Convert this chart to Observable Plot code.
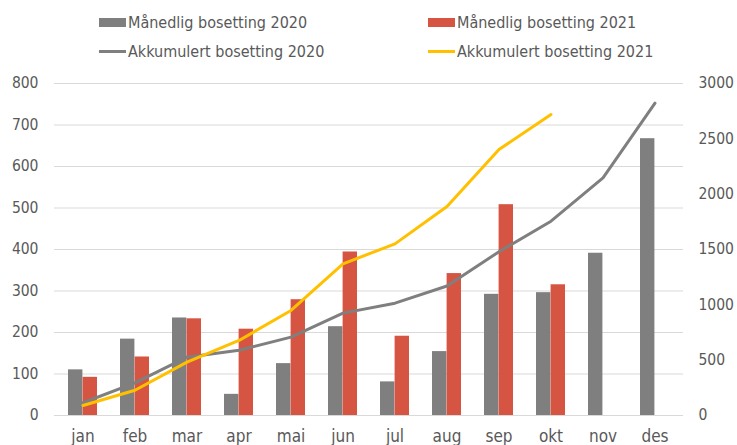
<!DOCTYPE html>
<html><head><meta charset="utf-8">
<script src="https://cdn.jsdelivr.net/npm/d3@7"></script>
<script src="https://cdn.jsdelivr.net/npm/@observablehq/plot@0.6"></script>
<style>
body{margin:0;background:#fff;font-family:"DejaVu Sans Condensed","DejaVu Sans",sans-serif;font-stretch:condensed;}
#wrap{position:relative;width:737px;height:445px;overflow:hidden;}
#legend{position:relative;height:66px;width:737px;}
.item{position:absolute;display:flex;align-items:center;height:20px;font-size:16px;color:#595959;white-space:nowrap;}
.sw{width:27px;margin-right:2px;}
.bar{height:9px;}
.ln{height:3px;}
</style>
</head><body>
<div id="wrap">
<div id="legend"></div>
<div id="chart"></div>
</div>
<script>
const months = ["jan","feb","mar","apr","mai","jun","jul","aug","sep","okt","nov","des"];
const monthly2020 = [110, 184, 235, 51, 125, 214, 81, 154, 292, 296, 391, 667];
const monthly2021 = [92, 141, 233, 208, 279, 394, 191, 342, 508, 315];
const cumulative2020 = [115, 295, 527, 590, 708, 925, 1015, 1170, 1480, 1756, 2148, 2822];
const cumulative2021 = [90, 228, 482, 678, 949, 1371, 1551, 1888, 2403, 2720];
const leftTicks = [0, 100, 200, 300, 400, 500, 600, 700, 800];
const rightTicks = [0, 500, 1000, 1500, 2000, 2500, 3000];
const seriesNames = ["Månedlig bosetting 2020", "Månedlig bosetting 2021", "Akkumulert bosetting 2020", "Akkumulert bosetting 2021"];
const colors = ["#7f7f7f", "#d65542", "#7f7f7f", "#ffc000"];

const LEFT_MAX = 800, RIGHT_MAX = 3000;
const toLeft = v => v * LEFT_MAX / RIGHT_MAX;

const bars20 = months.map((m, i) => ({month: m, value: monthly2020[i]}));
const bars21 = monthly2021.map((v, i) => ({month: months[i], value: v}));
const cum20 = months.map((m, i) => ({month: m, value: toLeft(cumulative2020[i])}));
const cum21 = cumulative2021.map((v, i) => ({month: months[i], value: toLeft(v)}));

// legend
const legend = document.getElementById("legend");
const legendPos = [[99, 12], [428, 12], [99, 41], [428, 41]];
seriesNames.forEach((name, i) => {
  const it = document.createElement("div");
  it.className = "item";
  it.style.left = legendPos[i][0] + "px";
  it.style.top = legendPos[i][1] + "px";
  const sw = document.createElement("span");
  sw.className = "sw " + (i < 2 ? "bar" : "ln");
  sw.style.background = colors[i];
  const tx = document.createElement("span");
  tx.textContent = name;
  it.appendChild(sw); it.appendChild(tx);
  legend.appendChild(it);
});

const half = 14.6;
const chart = Plot.plot({
  width: 737,
  height: 379,
  marginLeft: 54,
  marginRight: 54,
  marginTop: 17,
  marginBottom: 30,
  style: {fontFamily: '"DejaVu Sans Condensed","DejaVu Sans",sans-serif', fontSize: "15px", color: "#595959", background: "#fff"},
  x: {domain: months, type: "band", paddingInner: 0.44, paddingOuter: 0.2, axis: null},
  y: {domain: [0, LEFT_MAX], axis: null},
  marks: [
    Plot.ruleY(leftTicks, {stroke: "#d9d9d9", strokeWidth: 1}),
    Plot.barY(bars20, {x: "month", y: "value", fill: colors[0], insetRight: half}),
    Plot.barY(bars21, {x: "month", y: "value", fill: colors[1], insetLeft: half}),
    Plot.lineY(cum20, {x: "month", y: "value", stroke: colors[2], strokeWidth: 3}),
    Plot.lineY(cum21, {x: "month", y: "value", stroke: colors[3], strokeWidth: 3}),
    Plot.axisY({ticks: leftTicks, anchor: "left", tickSize: 0, tickPadding: 16, label: null, fill: "#595959", fontSize: 15.5}),
    Plot.axisY({ticks: rightTicks.map(toLeft), anchor: "right", tickSize: 0, tickPadding: 15, label: null, fill: "#595959", fontSize: 15.5,
      tickFormat: d => String(Math.round(d * RIGHT_MAX / LEFT_MAX))}),
    Plot.axisX({anchor: "bottom", tickSize: 0, tickPadding: 14, label: null, fill: "#595959", fontSize: 17})
  ]
});
document.getElementById("chart").appendChild(chart);
</script>
</body></html>
